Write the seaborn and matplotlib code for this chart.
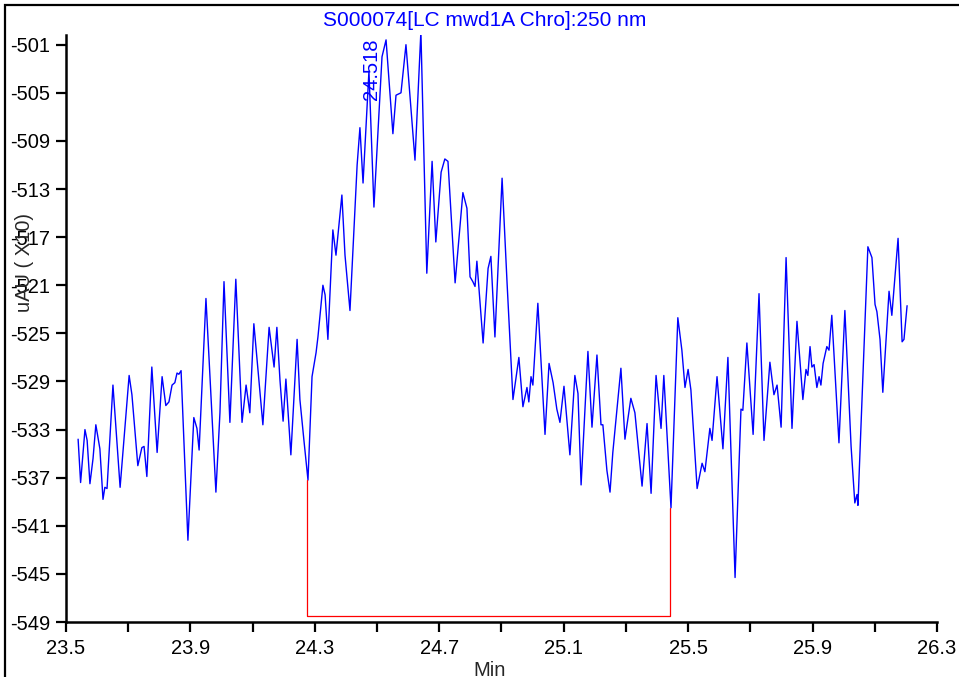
import matplotlib
matplotlib.use("Agg")

import matplotlib.pyplot as plt
import seaborn as sns
import pandas as pd
from matplotlib.patches import Rectangle
from matplotlib.ticker import FuncFormatter

# chromatogram trace (minutes, uAU x10)
time_min = [
    23.539, 23.547, 23.561, 23.568, 23.577, 23.587, 23.596, 23.609, 23.619, 23.625,
    23.632, 23.651, 23.674, 23.703, 23.712, 23.731, 23.744, 23.751, 23.760, 23.776,
    23.793, 23.809, 23.821, 23.831, 23.841, 23.850, 23.857, 23.863, 23.870, 23.892,
    23.911, 23.921, 23.928, 23.950, 23.982, 23.995, 24.008, 24.027, 24.046, 24.066,
    24.079, 24.091, 24.104, 24.133, 24.153, 24.169, 24.178, 24.188, 24.198, 24.207,
    24.223, 24.243, 24.252, 24.265, 24.278, 24.291, 24.304, 24.310, 24.326, 24.333,
    24.342, 24.358, 24.368, 24.387, 24.397, 24.413, 24.436, 24.445, 24.455, 24.474,
    24.490, 24.516, 24.529, 24.551, 24.561, 24.577, 24.593, 24.622, 24.641, 24.660,
    24.677, 24.689, 24.706, 24.718, 24.728, 24.751, 24.776, 24.789, 24.799, 24.808,
    24.815, 24.821, 24.841, 24.857, 24.866, 24.879, 24.902, 24.918, 24.937, 24.956,
    24.969, 24.982, 24.988, 24.995, 25.001, 25.017, 25.040, 25.053, 25.066, 25.078,
    25.088, 25.101, 25.120, 25.136, 25.146, 25.156, 25.178, 25.191, 25.207, 25.220,
    25.226, 25.239, 25.249, 25.258, 25.284, 25.297, 25.316, 25.329, 25.352, 25.368,
    25.381, 25.397, 25.413, 25.422, 25.445, 25.467, 25.480, 25.490, 25.500, 25.509,
    25.529, 25.545, 25.554, 25.570, 25.577, 25.593, 25.612, 25.628, 25.651, 25.670,
    25.676, 25.689, 25.709, 25.728, 25.744, 25.763, 25.776, 25.786, 25.799, 25.815,
    25.834, 25.850, 25.869, 25.879, 25.885, 25.892, 25.898, 25.905, 25.914, 25.921,
    25.927, 25.934, 25.946, 25.953, 25.962, 25.985, 26.004, 26.024, 26.036, 26.043,
    26.046, 26.078, 26.091, 26.101, 26.107, 26.117, 26.126, 26.146, 26.155, 26.175,
    26.188, 26.194, 26.204,
]
signal = [
    -533.8, -537.4, -533.0, -533.9, -537.5, -535.4, -532.6, -534.6, -538.8, -537.8,
    -537.9, -529.3, -537.8, -528.5, -530.1, -536.0, -534.5, -534.4, -536.9, -527.8,
    -534.9, -528.6, -531.0, -530.7, -529.3, -529.1, -528.3, -528.4, -528.1, -542.2,
    -532.0, -532.9, -534.7, -522.1, -538.2, -531.6, -520.7, -532.4, -520.5, -532.4,
    -529.3, -531.6, -524.2, -532.6, -524.5, -527.8, -524.5, -528.9, -532.3, -528.8,
    -535.1, -525.5, -530.5, -533.9, -537.2, -528.6, -526.6, -525.3, -521.0, -521.8,
    -525.5, -516.4, -518.5, -513.5, -518.5, -523.1, -511.0, -507.9, -512.5, -503.2,
    -514.5, -502.0, -500.6, -508.4, -505.2, -505.0, -501.0, -510.6, -499.9, -520.0,
    -510.7, -517.4, -511.6, -510.5, -510.7, -520.8, -513.3, -514.6, -520.3, -520.7,
    -521.1, -519.0, -525.8, -519.6, -518.6, -525.3, -512.1, -520.8, -530.5, -527.0,
    -531.1, -529.5, -530.7, -528.6, -529.3, -522.5, -533.4, -527.5, -529.1, -531.3,
    -532.4, -529.4, -535.1, -528.5, -530.0, -537.6, -526.5, -532.8, -526.8, -532.6,
    -532.6, -536.4, -538.2, -534.9, -527.9, -533.8, -530.4, -531.6, -537.7, -532.5,
    -538.3, -528.5, -532.9, -528.5, -539.5, -523.7, -526.4, -529.5, -528.0, -529.7,
    -537.9, -535.8, -536.5, -532.9, -533.9, -528.6, -534.6, -527.0, -545.3, -531.3,
    -531.4, -525.8, -533.4, -521.7, -533.9, -527.4, -530.1, -529.3, -532.8, -518.7,
    -532.9, -524.0, -530.5, -528.0, -528.5, -526.1, -527.8, -527.6, -529.5, -528.6,
    -529.3, -527.5, -526.1, -526.4, -523.5, -534.1, -523.1, -534.4, -539.1, -538.4,
    -539.3, -517.8, -518.7, -522.6, -523.2, -525.5, -529.9, -521.5, -523.5, -517.1,
    -525.7, -525.5, -522.7,
]

# integration baseline drawn in red
base_time = [24.275, 24.275, 25.442, 25.442]
base_signal = [-537.2, -548.5, -548.5, -539.5]

peak_time = 24.518
peak_label = "24.518"
title = "S000074[LC mwd1A Chro]:250 nm"
x_label = "Min"
y_label = "uAU ( X10)"
x_ticks = [23.5, 23.9, 24.3, 24.7, 25.1, 25.5, 25.9, 26.3]
x_minor_ticks = [23.7, 24.1, 24.5, 24.9, 25.3, 25.7, 26.1]
y_ticks = list(range(-501, -550, -4))

sns.set_style("ticks")
plt.rcParams["font.family"] = ["Liberation Sans", "DejaVu Sans"]
plt.rcParams["axes.unicode_minus"] = False

fig = plt.figure(figsize=(9.59, 6.77), dpi=100)
ax = fig.add_axes([0.0688, 0.0812, 0.9082, 0.8670])

trace = pd.DataFrame({"time": time_min, "signal": signal})
sns.lineplot(data=trace, x="time", y="signal", ax=ax, color="#0000ff",
             linewidth=1.0, sort=False, estimator=None)
ax.plot(base_time, base_signal, color="#ff0000", linewidth=0.9)

ax.annotate(peak_label, xy=(peak_time, -505.6), xytext=(-8, 0),
            textcoords="offset points", rotation=90, ha="center", va="bottom",
            color="#0000ff", fontsize=14.5)

ax.set_xlim(23.5, 26.3)
ax.set_ylim(-549, -500.2)
ax.set_xticks(x_ticks)
ax.set_xticks(x_minor_ticks, minor=True)
ax.xaxis.set_major_formatter(FuncFormatter(lambda v, p: f"{v:.1f}"))
ax.set_yticks(y_ticks)
ax.yaxis.set_major_formatter(FuncFormatter(lambda v, p: f"{int(round(v))}"))
ax.tick_params(axis="both", which="both", direction="out", length=7.5,
               width=1.6, colors="black", labelsize=14.5)
ax.tick_params(axis="x", pad=5)
ax.tick_params(axis="y", pad=4)

for side in ["top", "right"]:
    ax.spines[side].set_visible(False)
for side in ["left", "bottom"]:
    ax.spines[side].set_linewidth(1.8)
    ax.spines[side].set_color("black")

ax.set_xlabel("")
ax.set_ylabel("")
fig.text(485 / 959, 1 - 21 / 677, title, color="#0000ff", fontsize=15,
         ha="center", va="center")
fig.text(25 / 959, 1 - 262 / 677, y_label, rotation=90, fontsize=14.5,
         ha="center", va="center")
fig.text(490 / 959, 1 - 670 / 677, x_label, fontsize=14.5,
         ha="center", va="center")

# outer frame of the report page
fig.add_artist(Rectangle((5 / 959, -0.1), 1.2, 1.1 - 5 / 677,
                         transform=fig.transFigure, fill=False,
                         edgecolor="black", linewidth=1.6))

fig.savefig("out.png", dpi=100)
plt.close(fig)
